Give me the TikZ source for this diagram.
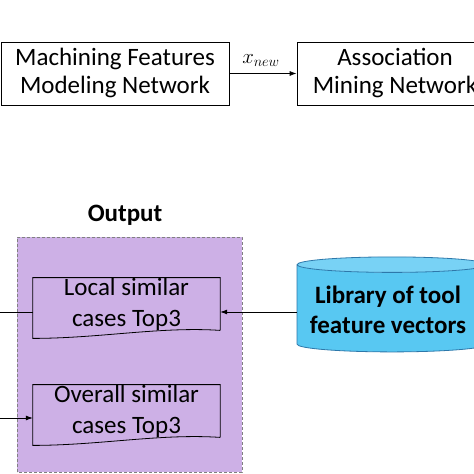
\documentclass[tikz,border=0pt]{standalone}
\usepackage{fontspec}
\setmainfont{Carlito}
\usetikzlibrary{arrows.meta, shapes.geometric, calc}
\definecolor{outpurple}{RGB}{205,176,230}
\definecolor{libblue}{RGB}{88,200,242}
\definecolor{libtop}{RGB}{120,210,245}
\definecolor{libedge}{RGB}{45,120,170}

\begin{document}
\begin{tikzpicture}[x=1pt, y=1pt,
    netbox/.style={draw, line width=0.8pt, minimum height=63, inner sep=0pt, align=center, font=\fontsize{25}{30}\selectfont},
    casebox/.style={minimum width=187, minimum height=52, inner sep=0pt, align=center, font=\fontsize{25}{31}\selectfont},
    arr/.style={line width=0.8pt, -{Latex[length=7pt, width=5pt]}}]
        \useasboundingbox (0,0) rectangle (474,474);
        \clip (0,0) rectangle (474,474);

        % networks
        \node[netbox, minimum width=228] (mfm) at (115,400.5) {\raisebox{-3pt}{\begin{tabular}{@{}c@{}}Machining Features\\[-2pt]Modeling Network\end{tabular}}};
        \node[netbox, minimum width=196] (amn) at (395,400.5) {\raisebox{-3pt}{\begin{tabular}{@{}c@{}}Association\\[-2pt]Mining Network\end{tabular}}};
        \draw[arr] (mfm) -- node[above=3pt, xshift=-2pt] {\fontsize{22}{22}\selectfont$x_{new}$} (amn);

        % output area
        \draw[gray, dashed, dash pattern=on 3pt off 2pt, fill=outpurple] (17,2) rectangle (242,237);
        \node[font=\fontsize{25}{25}\selectfont\bfseries] (outlbl) at (125,259) {Output};

        % similar cases
        \node[casebox] (local) at (126.5,170) {Local similar\\cases Top3};
        \node[casebox] (overall) at (126.5,63) {Overall similar\\cases Top3};
        \foreach \n in {local, overall}
            \draw[line width=0.8pt] (\n.south east) -- (\n.north east) -- (\n.north west) -- ($(\n.south west)+(0,-8)$)
                .. controls ($(\n.south west)+(67,-8)$) and ($(\n.south east)+(-60,4)$) .. (\n.south east);

        % library
        \node[cylinder, shape border rotate=90, aspect=0.1, minimum width=190, minimum height=95,
              draw=libedge, line width=0.8pt, cylinder uses custom fill, cylinder body fill=libblue, cylinder end fill=libtop,
              align=center, font=\fontsize{25}{30}\selectfont\bfseries] (lib) at (392,164.5) {\hspace*{-8pt}Library of tool\\\hspace*{-8pt}feature vectors};

        % connectors
        \coordinate (inLocal) at (0,162);
        \coordinate (inOverall) at (0,56);
        \draw[line width=0.8pt] (inLocal) -- (inLocal -| local.west);
        \draw[arr] (inOverall) -- (inOverall -| overall.west);
        \draw[arr] (lib.west |- inLocal) -- (inLocal -| local.east);
    \end{tikzpicture}
\end{document}
